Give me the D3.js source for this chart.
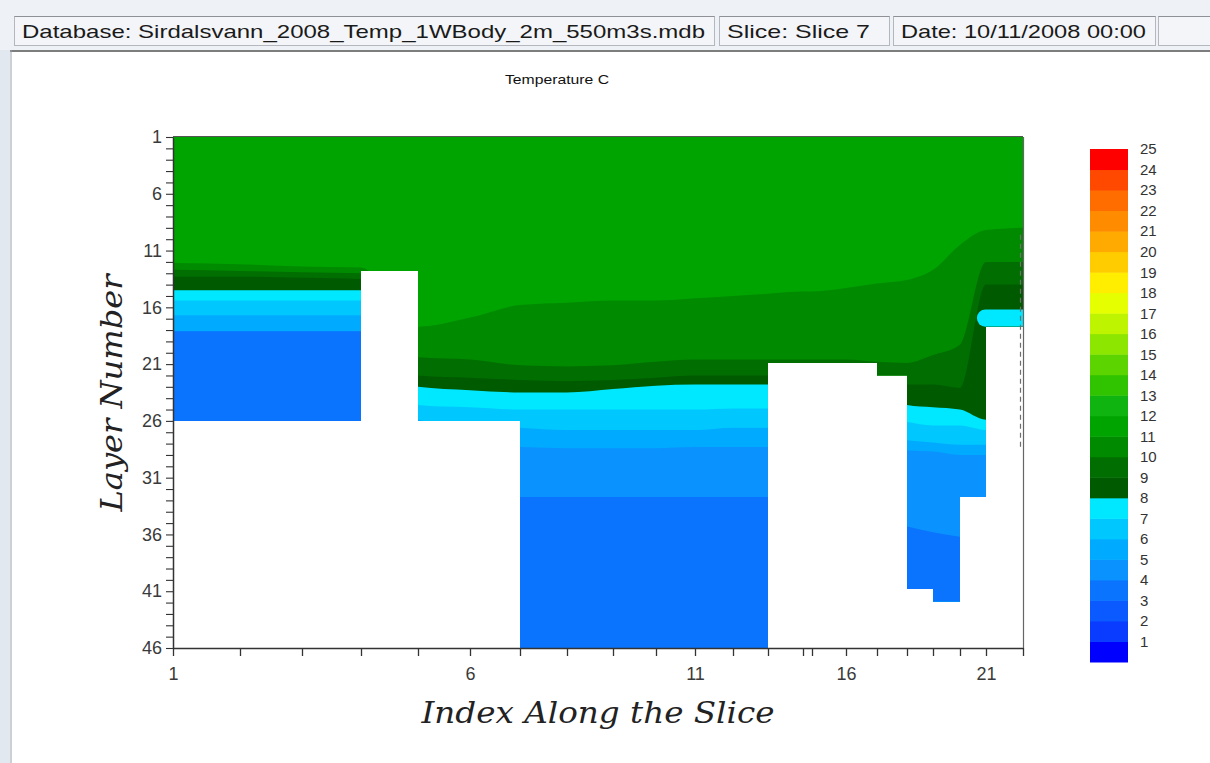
<!DOCTYPE html>
<html><head><meta charset="utf-8">
<script src="https://cdn.jsdelivr.net/npm/d3@7/dist/d3.min.js"></script>
<style>
html,body{margin:0;padding:0;background:#fff;overflow:hidden;}
svg{display:block;}
</style></head><body>
<svg id="chart" width="1210" height="763"></svg>
<script>
// ---------------- DATA ----------------
const statusTexts = ["Database: Sirdalsvann_2008_Temp_1WBody_2m_550m3s.mdb", "Slice: Slice 7", "Date: 10/11/2008 00:00", ""];
const chartTitle = "Temperature C";
const xTitle = "Index Along the Slice";
const yTitle = "Layer Number";
// index (segment) numbers along the slice and their cumulative distance
const sliceIndex = d3.range(1, 23);
const sliceDistanceKm = [0, 1.34, 2.58, 3.76, 4.90, 5.94, 6.94, 7.88, 8.80, 9.66, 10.44, 11.20, 11.90, 12.60, 12.78, 13.46, 14.08, 14.68, 15.20, 15.74, 16.26, 17.00];
const xLabelIndex = [1, 6, 11, 16, 21];
const layerTicks = d3.range(1, 47);
const yLabelLayers = [1, 6, 11, 16, 21, 26, 31, 36, 41, 46];
// bottom layer of each column (column i spans index i .. i+1)
const columnBottomLayer = [26, 26, 26, 12.8, 26, 26, 46, 46, 46, 46, 46, 46, 20.9, 20.9, 20.9, 20.9, 22, 40.8, 41.9, 32.7, 17.7];
// isotherm depths (layer number) at every index: temperature boundary T
const iso11 = [12.1, 12.2, 12.4, 12.5, 17.7, 16.9, 15.8, 15.6, 15.4, 15.4, 15.2, 15.0, 14.8, 14.6, 14.6, 14.3, 13.9, 13.6, 12.7, 10.5, 9.2, 9.0];
const iso10 = [12.7, 12.8, 12.9, 13.0, 20.4, 20.6, 21.1, 21.2, 21.1, 20.8, 20.6, 20.6, 20.6, 20.6, 20.6, 20.6, 20.8, 20.9, 20.2, 19.3, 12.0, 12.0];
const iso9 = [13.3, 13.3, 13.4, 13.5, 22.0, 22.2, 22.4, 22.5, 22.4, 22.2, 22.0, 22.0, 22.0, 22.0, 22.0, 22.1, 22.4, 22.8, 22.8, 23.1, 14.0, 14.0];
const iso8 = [14.5, 14.5, 14.5, 14.5, 23.0, 23.3, 23.5, 23.5, 23.2, 22.9, 22.8, 22.8, 22.8, 22.9, 23.1, 23.3, 23.7, 24.6, 24.8, 25.0, 25.9, 25.9];
const iso7 = [15.4, 15.4, 15.4, 15.4, 24.6, 24.8, 25.0, 25.0, 25.0, 25.0, 25.0, 24.9, 24.9, 25.0, 25.0, 25.2, 25.6, 26.1, 26.4, 26.4, 26.8, 26.8];
const iso6 = [16.7, 16.7, 16.7, 16.7, 25.9, 26.4, 26.6, 26.8, 26.8, 26.8, 26.8, 26.6, 26.6, 26.8, 27.0, 27.2, 27.3, 27.7, 27.9, 28.1, 28.1, 28.1];
const iso5 = [18.1, 18.1, 18.1, 18.1, 27.7, 28.1, 28.3, 28.4, 28.4, 28.4, 28.3, 28.3, 28.3, 28.3, 28.3, 28.4, 28.5, 28.6, 28.7, 29.0, 29.0, 29.0];
const iso4 = [18.1, 18.1, 18.1, 18.1, 30.3, 32.1, 32.7, 32.7, 32.7, 32.7, 32.7, 32.7, 32.7, 33.0, 33.4, 33.8, 34.6, 35.3, 35.8, 36.2, 36.5, 36.5];
const surfaceBand = 11; // temperature band above the first isotherm (11-12 C)
// warm pocket cell near the end of the slice
const pocketFromIndex = [20.65];
const pocketToIndex = [22];
const pocketTopLayer = [16.2];
const pocketBottomLayer = [17.7];
const pocketBand = [7];
// dashed grid edge at the end of the slice (layers)
const edgeLayers = [9.6, 28.5];
// colour bar
const legendValues = d3.range(1, 26);
const bandColors = ["#0000ff", "#0a3cff", "#0a5aff", "#0a74ff", "#0a92ff", "#00aaff", "#00c8ff", "#00e8ff",
  "#005a00", "#006e00", "#008a00", "#00a400", "#10b410", "#30c400", "#5cd400", "#8ce600", "#bef400",
  "#e6ff00", "#ffee00", "#ffcc00", "#ffaa00", "#ff8c00", "#ff6c00", "#ff4800", "#ff0000"];

// ---------------- DRAW ----------------
const svg = d3.select("#chart");
const W = 1210, H = 763;
svg.append("rect").attr("width", W).attr("height", H).attr("fill", "#ffffff");
svg.append("rect").attr("x", 0).attr("y", 0).attr("width", W).attr("height", 50).attr("fill", "#eef2f7");
svg.append("rect").attr("x", 0).attr("y", 50).attr("width", 10).attr("height", H - 50).attr("fill", "#e2e8f0");
svg.append("line").attr("x1", 10).attr("x2", W).attr("y1", 51).attr("y2", 51).attr("stroke", "#7d7d7d").attr("stroke-width", 2);
svg.append("line").attr("x1", 11).attr("x2", 11).attr("y1", 50).attr("y2", H).attr("stroke", "#9aa0a8").attr("stroke-width", 1);

// status panels
const panelX = [14, 719, 893, 1158], panelW = [700, 170, 262, 52], textLen = [683, 143, 245, 0];
statusTexts.forEach((t, i) => {
  const g = svg.append("g");
  g.append("rect").attr("x", panelX[i] + 0.5).attr("y", 16.5).attr("width", panelW[i]).attr("height", 29)
    .attr("fill", "#f3f5f8").attr("stroke", "#b4b8be");
  g.append("line").attr("x1", panelX[i] + 0.5).attr("x2", panelX[i] + panelW[i] + 0.5).attr("y1", 16.5).attr("y2", 16.5).attr("stroke", "#8e9298");
  if (t) {
    g.append("text").attr("x", panelX[i] + 8).attr("y", 38).text(t)
      .attr("font-family", "Liberation Sans, Arial, sans-serif").attr("font-size", 19)
      .attr("fill", "#1a1a1a").attr("textLength", textLen[i]).attr("lengthAdjust", "spacingAndGlyphs");
  }
});

// chart title
svg.append("text").attr("x", 557).attr("y", 84).attr("text-anchor", "middle").text(chartTitle)
  .attr("font-family", "Liberation Sans, Arial, sans-serif").attr("font-size", 13).attr("fill", "#111")
  .attr("textLength", 104).attr("lengthAdjust", "spacingAndGlyphs");

const x = d3.scaleLinear().domain([0, 17]).range([173, 1023]);
const y = d3.scaleLinear().domain([1, 46]).range([137, 648]);
const dist = i => { // fractional index -> distance
  const k = Math.min(Math.floor(i) - 1, sliceDistanceKm.length - 2);
  return sliceDistanceKm[k] + (i - 1 - k) * (sliceDistanceKm[k + 1] - sliceDistanceKm[k]);
};

// bathymetry clip
const clipPts = [[sliceDistanceKm[0], 1], [sliceDistanceKm[sliceDistanceKm.length - 1], 1]];
for (let c = columnBottomLayer.length - 1; c >= 0; c--) {
  clipPts.push([sliceDistanceKm[c + 1], columnBottomLayer[c]]);
  clipPts.push([sliceDistanceKm[c], columnBottomLayer[c]]);
}
svg.append("clipPath").attr("id", "water").append("path")
  .attr("d", d3.line().x(d => x(d[0])).y(d => y(d[1]))(clipPts) + "Z");

const field = svg.append("g").attr("clip-path", "url(#water)");
field.append("rect").attr("x", x(0)).attr("y", y(1)).attr("width", x(17) - x(0)).attr("height", y(46) - y(1))
  .attr("fill", bandColors[surfaceBand]);
const isotherms = [iso11, iso10, iso9, iso8, iso7, iso6, iso5, iso4];
const area = d3.area().curve(d3.curveMonotoneX)
  .x((d, i) => x(sliceDistanceKm[i])).y0(y(46)).y1(d => y(d));
isotherms.forEach((iso, k) => {
  field.append("path").attr("d", area(iso)).attr("fill", bandColors[surfaceBand - 1 - k]);
});
pocketFromIndex.forEach((f, i) => {
  const x0 = x(dist(f)), x1 = x(dist(pocketToIndex[i])) + 10;
  const y0 = y(pocketTopLayer[i]), y1 = y(pocketBottomLayer[i]);
  field.append("rect").attr("x", x0).attr("y", y0).attr("width", x1 - x0).attr("height", y1 - y0)
    .attr("rx", (y1 - y0) / 2).attr("fill", bandColors[pocketBand[i]]);
});

// dashed edge of the grid near the end of the slice
svg.append("line").attr("x1", x(17) - 2.5).attr("x2", x(17) - 2.5)
  .attr("y1", y(edgeLayers[0])).attr("y2", y(edgeLayers[1]))
  .attr("stroke", "#6f6f6f").attr("stroke-width", 1.2).attr("stroke-dasharray", "5,4");

// frame
svg.append("line").attr("x1", x(0)).attr("x2", x(17)).attr("y1", y(1) - 0.5).attr("y2", y(1) - 0.5).attr("stroke", "#555").attr("stroke-width", 1.2);
svg.append("line").attr("x1", x(17) + 0.5).attr("x2", x(17) + 0.5).attr("y1", y(1)).attr("y2", y(46)).attr("stroke", "#666").attr("stroke-width", 1.2);

// axes
const axisFont = "Liberation Sans, Arial, sans-serif";
const xAxis = d3.axisBottom(x).tickValues(sliceDistanceKm).tickSizeInner(8).tickSizeOuter(0).tickPadding(11)
  .tickFormat((d, i) => xLabelIndex.includes(sliceIndex[i]) ? String(sliceIndex[i]) : "");
const gx = svg.append("g").attr("transform", `translate(0,${y(46)})`).call(xAxis);
gx.selectAll("text").attr("font-family", axisFont).attr("font-size", 18).attr("fill", "#3a3a3a");
gx.selectAll("line").attr("stroke", "#333").attr("stroke-width", 1.3);
gx.select(".domain").attr("stroke", "#333").attr("stroke-width", 1.5);

const yAxis = d3.axisLeft(y).tickValues(layerTicks).tickSizeInner(7).tickSizeOuter(0).tickPadding(4)
  .tickFormat(d => yLabelLayers.includes(d) ? String(d) : "");
const gy = svg.append("g").attr("transform", `translate(${x(0)},0)`).call(yAxis);
gy.selectAll("text").attr("font-family", axisFont).attr("font-size", 18).attr("fill", "#3a3a3a");
gy.selectAll("line").attr("stroke", "#333").attr("stroke-width", 1.1);
gy.select(".domain").attr("stroke", "#333").attr("stroke-width", 1.5);

// axis titles
svg.append("text").attr("x", 598).attr("y", 723).attr("text-anchor", "middle").text(xTitle)
  .attr("font-family", "DejaVu Serif, serif").attr("font-style", "italic").attr("font-size", 29).attr("fill", "#222")
  .attr("textLength", 353).attr("lengthAdjust", "spacingAndGlyphs");
svg.append("text").attr("transform", "translate(122,393) rotate(-90)").attr("text-anchor", "middle").text(yTitle)
  .attr("font-family", "DejaVu Serif, serif").attr("font-style", "italic").attr("font-size", 29).attr("fill", "#222")
  .attr("textLength", 237).attr("lengthAdjust", "spacingAndGlyphs");

// colour bar
const ly = d3.scaleLinear().domain([0, 25]).range([662, 149]);
const lg = svg.append("g");
lg.selectAll("rect").data(bandColors).join("rect")
  .attr("x", 1090).attr("width", 38)
  .attr("y", (d, i) => ly(i + 1)).attr("height", (d, i) => ly(i) - ly(i + 1) + 0.5)
  .attr("fill", d => d);
lg.selectAll("text").data(legendValues).join("text")
  .attr("x", 1140).attr("y", d => ly(d)).attr("dy", "0.36em").text(d => d)
  .attr("font-family", axisFont).attr("font-size", 15).attr("fill", "#333");
</script>
</body></html>
